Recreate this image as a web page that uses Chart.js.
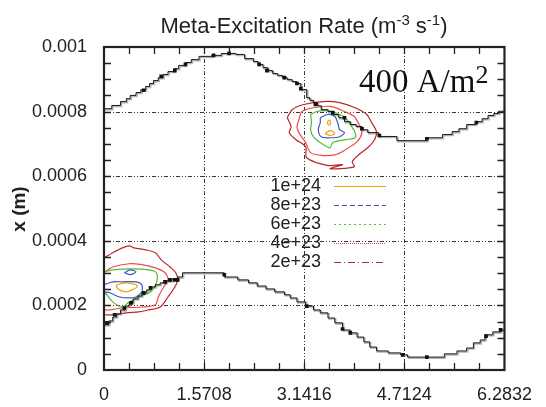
<!DOCTYPE html>
<html>
<head>
<meta charset="utf-8">
<script src="https://cdn.jsdelivr.net/npm/chart.js@4"></script>
<style>
  html, body { margin: 0; padding: 0; background: #fff; }
</style>
</head>
<body>
<canvas id="rate" width="546" height="407"></canvas>
<script>
// axis ticks (theta in rad, x in m)
const xMajor = [0, Math.PI / 2, Math.PI, 3 * Math.PI / 2, 2 * Math.PI];
const xTickLabels = ['0', '1.5708', '3.1416', '4.7124', '6.2832'];
const yMajor = [0, 0.0002, 0.0004, 0.0006, 0.0008, 0.001];
const yTickLabels = ['0', '0.0002', '0.0004', '0.0006', '0.0008', '0.001'];

// upper and lower boundary, stepped [theta, x]
const upperEdge = [[0,8.09e-4],[0.122,8.19e-4],[0.259,8.31e-4],[0.350,8.40e-4],[0.411,8.50e-4],[0.502,8.59e-4],
  [0.578,8.68e-4],[0.654,8.78e-4],[0.715,8.87e-4],[0.776,8.96e-4],[0.852,9.05e-4],[0.928,9.15e-4],[1.004,9.24e-4],
  [1.095,9.33e-4],[1.171,9.43e-4],[1.278,9.52e-4],[1.369,9.61e-4],[1.491,9.71e-4],[1.689,9.74e-4],[1.841,9.80e-4],
  [2.069,9.77e-4],[2.206,9.64e-4],[2.343,9.55e-4],[2.419,9.46e-4],[2.495,9.36e-4],[2.571,9.27e-4],[2.647,9.18e-4],
  [2.723,9.12e-4],[2.799,9.05e-4],[2.875,8.99e-4],[2.951,8.93e-4],[3.027,8.87e-4],[3.088,8.68e-4],[3.180,8.43e-4],
  [3.230,8.35e-4],[3.286,8.28e-4],[3.350,8.18e-4],[3.408,8.06e-4],[3.514,8.00e-4],[3.590,7.91e-4],[3.682,7.81e-4],
  [3.773,7.69e-4],[3.864,7.60e-4],[3.956,7.54e-4],[4.047,7.44e-4],[4.138,7.35e-4],[4.306,7.23e-4],[4.595,7.10e-4],
  [5.066,7.19e-4],[5.310,7.29e-4],[5.462,7.38e-4],[5.568,7.47e-4],[5.690,7.60e-4],[5.827,7.69e-4],[5.933,7.78e-4],
  [6.025,7.88e-4],[6.116,7.94e-4],[6.192,8.01e-4],[6.283,8.09e-4]];
const lowerEdge = [[0,1.40e-4],[0.076,1.52e-4],[0.137,1.64e-4],[0.198,1.74e-4],[0.259,1.86e-4],[0.335,1.98e-4],
  [0.396,2.08e-4],[0.456,2.20e-4],[0.532,2.29e-4],[0.593,2.39e-4],[0.669,2.48e-4],[0.730,2.57e-4],[0.806,2.64e-4],
  [0.882,2.70e-4],[0.974,2.76e-4],[1.065,2.82e-4],[1.156,2.88e-4],[1.232,3.01e-4],[1.887,2.88e-4],[2.099,2.79e-4],
  [2.267,2.70e-4],[2.404,2.60e-4],[2.541,2.51e-4],[2.678,2.42e-4],[2.830,2.33e-4],[2.921,2.23e-4],[3.027,2.11e-4],
  [3.164,1.98e-4],[3.286,1.86e-4],[3.392,1.77e-4],[3.514,1.61e-4],[3.621,1.46e-4],[3.743,1.24e-4],[3.864,1.15e-4],
  [3.971,1.02e-4],[4.077,8.7e-5],[4.169,7.1e-5],[4.275,5.9e-5],[4.458,5.3e-5],[4.656,4.7e-5],[4.762,4.0e-5],
  [5.340,5.0e-5],[5.538,5.9e-5],[5.690,6.8e-5],[5.796,8.4e-5],[5.903,9.3e-5],[5.979,1.09e-4],[6.100,1.18e-4],
  [6.222,1.24e-4],[6.283,1.30e-4]];

// black square markers on the boundaries
const upperMarks = [[0.624,8.66e-4],[0.898,9.09e-4],[1.111,9.27e-4],[1.278,9.46e-4],[1.719,9.74e-4],[1.963,9.80e-4],
  [2.434,9.46e-4],[2.556,9.27e-4],[2.830,9.05e-4],[3.027,8.87e-4],[3.088,8.71e-4],[3.317,8.22e-4],[3.590,7.97e-4],
  [3.773,7.81e-4],[4.047,7.47e-4],[4.321,7.26e-4],[5.066,7.16e-4],[5.842,7.66e-4]];
const lowerMarks = [[0.046,1.46e-4],[0.167,1.71e-4],[0.319,1.92e-4],[0.426,2.08e-4],[0.624,2.39e-4],[0.730,2.54e-4],
  [0.958,2.73e-4],[1.035,2.79e-4],[1.111,2.79e-4],[1.156,2.79e-4],[1.887,2.95e-4],[3.180,1.98e-4],[3.743,1.27e-4],
  [3.864,1.15e-4],[4.686,4.7e-5],[5.066,4.0e-5],[5.994,1.05e-4],[6.222,1.24e-4]];

// contour lines of the excitation rate
const ring2Upper = [[2.875,7.81e-4],[2.951,8.06e-4],[3.134,8.22e-4],[3.438,8.31e-4],[3.697,8.28e-4],[3.940,8.12e-4],
  [4.123,7.91e-4],[4.199,7.66e-4],[4.275,7.38e-4],[4.245,7.13e-4],[4.153,6.91e-4],[4.001,6.67e-4],[3.895,6.45e-4],
  [3.925,6.29e-4],[3.545,6.23e-4],[3.743,6.36e-4],[3.515,6.33e-4],[3.180,6.57e-4],[3.164,6.91e-4],[3.012,7.13e-4],
  [2.906,7.35e-4],[2.936,7.53e-4],[2.875,7.81e-4]];
const ring4Upper = [[3.058,7.75e-4],[3.104,8.00e-4],[3.286,8.12e-4],[3.560,8.16e-4],[3.773,8.00e-4],[3.925,7.85e-4],
  [4.001,7.60e-4],[4.047,7.35e-4],[3.971,7.07e-4],[3.788,6.82e-4],[3.636,6.67e-4],[3.438,6.64e-4],[3.241,6.73e-4],
  [3.164,7.04e-4],[3.058,7.35e-4],[3.028,7.53e-4],[3.058,7.75e-4]];
const ring6Upper = [[3.241,7.91e-4],[3.332,8.00e-4],[3.514,8.03e-4],[3.697,7.91e-4],[3.788,7.81e-4],[3.864,7.60e-4],
  [3.940,7.35e-4],[3.940,7.19e-4],[3.788,7.13e-4],[3.590,7.04e-4],[3.545,6.88e-4],[3.438,6.98e-4],[3.286,7.22e-4],
  [3.241,7.44e-4],[3.256,7.66e-4],[3.241,7.91e-4]];
const ring8Upper = [[3.393,7.81e-4],[3.514,7.91e-4],[3.621,7.85e-4],[3.667,7.66e-4],[3.697,7.44e-4],[3.773,7.35e-4],
  [3.697,7.22e-4],[3.545,7.19e-4],[3.408,7.22e-4],[3.362,7.44e-4],[3.393,7.66e-4],[3.393,7.81e-4]];
const ring10UpperA = [[3.51,7.70e-4],[3.53,7.74e-4],[3.55,7.70e-4],[3.55,7.62e-4],[3.53,7.58e-4],[3.51,7.62e-4],[3.51,7.70e-4]];
const ring10UpperB = [[3.469,7.32e-4],[3.545,7.41e-4],[3.621,7.32e-4],[3.545,7.26e-4],[3.469,7.32e-4]];
const ring2Lower = [[0,3.47e-4],[0.137,3.63e-4],[0.289,3.78e-4],[0.396,3.84e-4],[0.472,3.78e-4],[0.654,3.72e-4],
  [0.806,3.63e-4],[0.898,3.41e-4],[1.035,3.19e-4],[1.126,3.01e-4],[1.156,2.79e-4],[1.111,2.57e-4],[1.004,2.26e-4],
  [0.882,1.95e-4],[0.700,1.86e-4],[0.548,1.80e-4],[0.350,1.77e-4],[0.167,1.71e-4],[0,1.71e-4]];
const ring4Lower = [[0,3.01e-4],[0.137,3.19e-4],[0.396,3.29e-4],[0.593,3.26e-4],[0.806,3.16e-4],[0.958,3.01e-4],
  [1.004,2.79e-4],[0.928,2.54e-4],[0.852,2.26e-4],[0.806,2.02e-4],[0.593,1.95e-4],[0.289,1.92e-4],[0.091,1.86e-4],[0,1.86e-4]];
const ring6Lower = [[0,3.04e-4],[0.137,3.10e-4],[0.396,3.13e-4],[0.700,3.10e-4],[0.822,3.01e-4],[0.822,2.70e-4],
  [0.730,2.42e-4],[0.548,2.26e-4],[0.396,2.11e-4],[0.289,1.95e-4],[0.137,2.11e-4],[0.046,2.33e-4],[0,2.39e-4]];
const ring8Lower = [[0,2.64e-4],[0.137,2.73e-4],[0.289,2.73e-4],[0.502,2.73e-4],[0.593,2.64e-4],[0.593,2.42e-4],
  [0.502,2.26e-4],[0.396,2.23e-4],[0.243,2.26e-4],[0.091,2.39e-4],[0,2.42e-4]];
const ring8LowerSmall = [[0.319,3.01e-4],[0.411,3.10e-4],[0.502,3.04e-4],[0.411,2.95e-4],[0.319,3.01e-4]];
const ring10Lower = [[0.198,2.64e-4],[0.350,2.70e-4],[0.502,2.64e-4],[0.517,2.57e-4],[0.441,2.48e-4],[0.350,2.42e-4],
  [0.243,2.48e-4],[0.198,2.57e-4],[0.198,2.64e-4]];

const levelLabels = ['1e+24', '8e+23', '6e+23', '4e+23', '2e+23'];
const levelColors = ['#f0a000', '#3858c0', '#4cc038', '#f04848', '#b82828'];
const levelDashes = [[], [5, 3], [2, 3], [1, 1], [7, 3, 1, 3]];

const FONT = '"Liberation Sans", Arial, sans-serif';
const toPts = arr => arr.map(p => ({ x: p[0], y: p[1] }));

const rings = [
  [ring10UpperA, 0], [ring10UpperB, 0], [ring10Lower, 0],
  [ring8Upper, 1], [ring8Lower, 1], [ring8LowerSmall, 1],
  [ring6Upper, 2], [ring6Lower, 2],
  [ring4Upper, 3], [ring4Lower, 3],
  [ring2Upper, 4], [ring2Lower, 4]
];

const datasets = [];
[upperEdge, lowerEdge].forEach(edge => {
  datasets.push({ data: toPts(edge), stepped: true, showLine: true, borderColor: '#1a1a1a', borderWidth: 1, pointRadius: 0, order: 0 });
  datasets.push({ data: toPts(edge), stepped: true, showLine: true, borderColor: '#b4b4b4', borderWidth: 1.6, pointRadius: 0, order: 3, shadow: true });
});
datasets.push({ data: toPts(upperMarks.concat(lowerMarks)), showLine: false, pointStyle: 'rect', pointRadius: 2.6,
  backgroundColor: '#111', borderColor: '#111', borderWidth: 0, order: -1 });
rings.forEach(r => {
  datasets.push({ data: toPts(r[0]), showLine: true, borderColor: levelColors[r[1]],
    borderWidth: 1.2, pointRadius: 0, tension: 0.3, order: 1 });
});

// offset the gray copy to give the edge its shadow
const shadowPlugin = {
  id: 'shadow',
  beforeDatasetDraw(chart, args) {
    if (chart.data.datasets[args.index].shadow) { chart.ctx.save(); chart.ctx.translate(1, 1); }
  },
  afterDatasetDraw(chart, args) {
    if (chart.data.datasets[args.index].shadow) chart.ctx.restore();
  }
};

const framePlugin = {
  id: 'frame',
  beforeDatasetsDraw(chart) {
    const { ctx, chartArea: a, scales: { x, y } } = chart;
    ctx.save();
    ctx.strokeStyle = '#222';
    ctx.lineWidth = 0.9;
    ctx.setLineDash([4, 2, 1, 2, 1, 2]);
    xMajor.slice(1, -1).forEach(v => {
      const px = Math.round(x.getPixelForValue(v)) + 0.5;
      ctx.beginPath(); ctx.moveTo(px, a.top); ctx.lineTo(px, a.bottom); ctx.stroke();
    });
    yMajor.slice(1, -1).forEach(v => {
      const py = Math.round(y.getPixelForValue(v)) + 0.5;
      ctx.beginPath(); ctx.moveTo(a.left, py); ctx.lineTo(a.right, py); ctx.stroke();
    });
    ctx.restore();
  },
  afterDatasetsDraw(chart) {
    const { ctx, chartArea: a, scales: { x, y } } = chart;
    const len = 7;
    ctx.save();
    ctx.strokeStyle = '#222';
    ctx.lineWidth = 1.3;
    ctx.beginPath();
    for (let k = 1; k < 16; k++) {
      const px = Math.round(x.getPixelForValue(k * Math.PI / 8)) + 0.5;
      ctx.moveTo(px, a.top); ctx.lineTo(px, a.top + len);
      ctx.moveTo(px, a.bottom); ctx.lineTo(px, a.bottom - len);
    }
    for (let k = 1; k < 20; k++) {
      const py = Math.round(y.getPixelForValue(k * 0.00005)) + 0.5;
      ctx.moveTo(a.left, py); ctx.lineTo(a.left + len, py);
      ctx.moveTo(a.right, py); ctx.lineTo(a.right - len, py);
    }
    ctx.stroke();
    ctx.lineWidth = 2.2;
    ctx.strokeRect(a.left, a.top, a.right - a.left, a.bottom - a.top);
    ctx.restore();
  }
};

function drawParts(ctx, parts, x0, baseline, family) {
  let pos = x0;
  parts.forEach(p => {
    ctx.font = p[1] + 'px ' + family;
    ctx.fillText(p[0], pos, baseline - p[2]);
    pos += ctx.measureText(p[0]).width;
  });
}
function partsWidth(ctx, parts, family) {
  return parts.reduce((s, p) => { ctx.font = p[1] + 'px ' + family; return s + ctx.measureText(p[0]).width; }, 0);
}

const labelsPlugin = {
  id: 'labels',
  afterDraw(chart) {
    const { ctx } = chart;
    ctx.save();
    ctx.fillStyle = '#222';
    ctx.textBaseline = 'alphabetic';
    ctx.textAlign = 'left';

    // title with superscripts
    const title = [['Meta-Excitation Rate (m', 22, 0], ['-3', 15, 8], [' s', 22, 0], ['-1', 15, 8], [')', 22, 0]];
    const tw = partsWidth(ctx, title, FONT);
    drawParts(ctx, title, 304 - tw / 2, 33, FONT);

    // current density note
    ctx.fillStyle = '#111';
    drawParts(ctx, [['400 A/m', 33, 0], ['2', 26, 9]], 359, 92, '"Liberation Serif", "Times New Roman", serif');

    // y axis title
    ctx.fillStyle = '#222';
    ctx.save();
    ctx.translate(25, 209);
    ctx.rotate(-Math.PI / 2);
    ctx.font = 'bold 19px ' + FONT;
    ctx.textAlign = 'center';
    ctx.fillText('x (m)', 0, 0);
    ctx.restore();

    // legend
    levelLabels.forEach((lab, i) => {
      const yy = 186 + i * 19;
      ctx.font = '18px ' + FONT;
      ctx.textAlign = 'right';
      ctx.textBaseline = 'middle';
      ctx.fillStyle = '#222';
      ctx.fillText(lab, 321, yy);
      ctx.strokeStyle = levelColors[i];
      ctx.lineWidth = 1;
      ctx.setLineDash(levelDashes[i]);
      ctx.beginPath();
      ctx.moveTo(334, yy + 0.5);
      ctx.lineTo(386, yy + 0.5);
      ctx.stroke();
    });
    ctx.restore();
  }
};

new Chart(document.getElementById('rate'), {
  type: 'scatter',
  data: { datasets },
  options: {
    responsive: false,
    animation: false,
    layout: { padding: { top: 47, right: 29, left: 0, bottom: 0 } },
    plugins: { legend: { display: false }, tooltip: { enabled: false } },
    scales: {
      x: {
        type: 'linear', min: 0, max: 2 * Math.PI,
        grid: { display: false, drawTicks: false }, border: { display: false },
        afterBuildTicks: s => { s.ticks = xMajor.map(v => ({ value: v })); },
        afterFit: s => { s.height = 37; },
        ticks: { padding: 14, color: '#222', font: { family: FONT, size: 18 }, maxRotation: 0,
          callback: (v, i) => xTickLabels[i] }
      },
      y: {
        type: 'linear', min: 0, max: 0.001,
        grid: { display: false, drawTicks: false }, border: { display: false },
        afterBuildTicks: s => { s.ticks = yMajor.map(v => ({ value: v })); },
        afterFit: s => { s.width = 104; },
        ticks: { padding: 17, color: '#222', font: { family: FONT, size: 18 },
          callback: (v, i) => yTickLabels[i] }
      }
    }
  },
  plugins: [shadowPlugin, framePlugin, labelsPlugin]
});
</script>
</body>
</html>
